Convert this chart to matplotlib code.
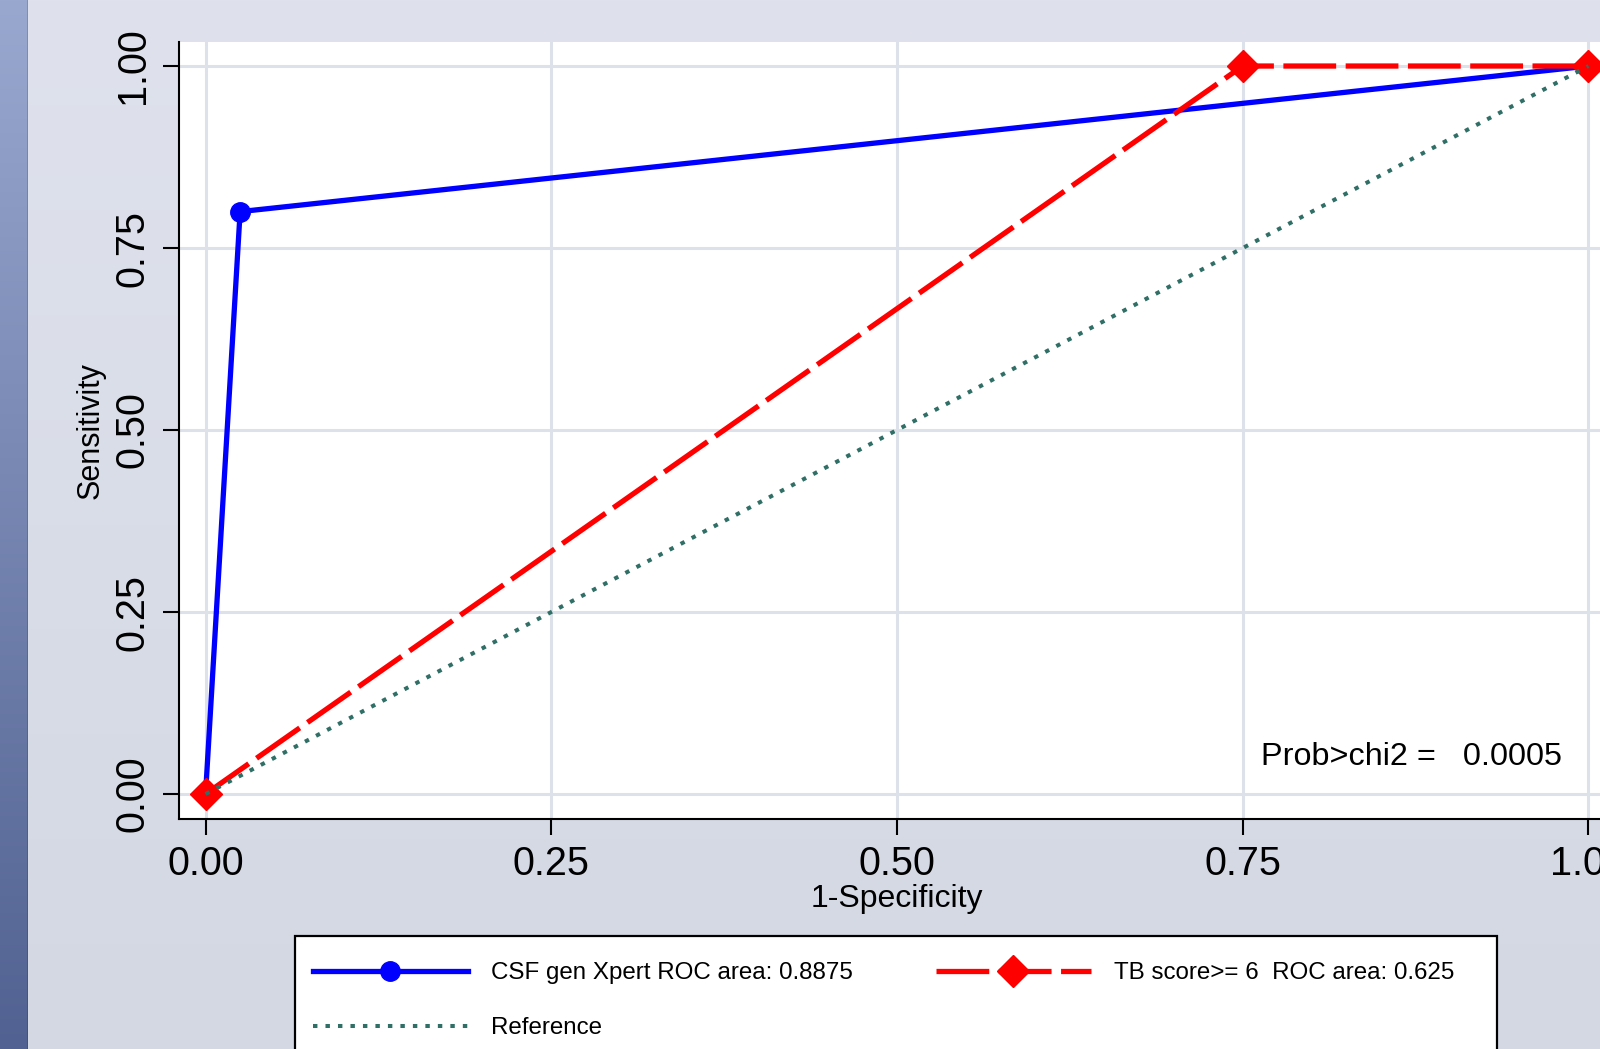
import numpy as np
import matplotlib
matplotlib.use("Agg")
import matplotlib.pyplot as plt
from matplotlib.patches import Rectangle

# ROC curve data
xpert_fpr = [0.0, 0.025, 1.0]
xpert_sens = [0.0, 0.80, 1.0]
tbscore_fpr = [0.0, 0.75, 1.0]
tbscore_sens = [0.0, 1.0, 1.0]
ref_x = [0.0, 1.0]
ref_y = [0.0, 1.0]

xpert_label = "CSF gen Xpert ROC area: 0.8875"
tbscore_label = "TB score>= 6  ROC area: 0.625"
ref_label = "Reference"
note_text = "Prob>chi2 =   0.0005"

tick_values = [0.0, 0.25, 0.5, 0.75, 1.0]
tick_labels = ["0.00", "0.25", "0.50", "0.75", "1.00"]

plt.rcParams["font.family"] = ["Liberation Sans", "DejaVu Sans"]

W, H = 1600, 1049
fig = plt.figure(figsize=(W / 100, H / 100), dpi=100)

# Background: soft vertical gradient plus a darker gradient strip on the left
top_bg = np.array([223, 226, 236]) / 255
bot_bg = np.array([211, 216, 227]) / 255
top_strip = np.array([153, 168, 207]) / 255
bot_strip = np.array([81, 97, 145]) / 255
t = np.linspace(0, 1, H)[:, None]
bg_col = top_bg * (1 - t) + bot_bg * t
strip_col = top_strip * (1 - t) + bot_strip * t
img = np.repeat(bg_col[:, None, :], W, axis=1)
img[:, :27, :] = strip_col[:, None, :]
img[:, 27, :] = strip_col * 0.85
bg = fig.add_axes([0, 0, 1, 1], zorder=-10)
bg.imshow(img, extent=(0, W, H, 0), aspect="auto", interpolation="bilinear")
bg.set_xlim(0, W)
bg.set_ylim(H, 0)
bg.axis("off")

# Plot area (extends past the right edge of the figure)
ax_left, ax_right, ax_top, ax_bottom = 179, 1615, 42, 819
ax = fig.add_axes([ax_left / W, 1 - ax_bottom / H,
                   (ax_right - ax_left) / W, (ax_bottom - ax_top) / H])
ax.set_facecolor("white")
ax.set_xlim(-0.0192, 1.0192)
ax.set_ylim(-0.0343, 1.033)

grid_kw = dict(color="#dde1ea", lw=2.2, zorder=0)
for v in tick_values:
    ax.axvline(v, **grid_kw)
    ax.axhline(v, **grid_kw)

blue_line, = ax.plot(xpert_fpr, xpert_sens, color="#0000ff", lw=3.8,
                     marker="o", ms=14, zorder=3, label=xpert_label)
red_line, = ax.plot(tbscore_fpr, tbscore_sens, color="#ff0000", lw=3.8,
                    linestyle=(0, (10, 1.8)), dash_capstyle="butt",
                    marker="D", ms=16, zorder=4, label=tbscore_label)
ref_line, = ax.plot(ref_x, ref_y, color="#2f6f66", lw=2.9,
                    linestyle=(0, (1.1, 2.0)), zorder=5, label=ref_label)

for s in ["top", "right"]:
    ax.spines[s].set_visible(False)
for s in ["left", "bottom"]:
    ax.spines[s].set_linewidth(1.5)
    ax.spines[s].set_color("black")

ax.set_xticks(tick_values)
ax.set_xticklabels(tick_labels)
ax.set_yticks(tick_values)
ax.set_yticklabels(tick_labels, rotation=90, va="center")
ax.tick_params(axis="both", direction="out", length=11.5, width=1.5, color="black")
ax.tick_params(axis="x", labelsize=28.5, pad=7.5)
ax.tick_params(axis="y", labelsize=28.5, pad=8)

ax.set_xlabel("1-Specificity", fontsize=23, va="baseline")
ax.xaxis.set_label_coords(0.5, (ax_bottom - 907) / (ax_bottom - ax_top))
ax.set_ylabel("Sensitivity", fontsize=22, va="center")
ax.yaxis.set_label_coords((91 - ax_left) / (ax_right - ax_left), 0.5)

ax.text((1261 - ax_left) / (ax_right - ax_left), (ax_bottom - 765) / (ax_bottom - ax_top),
        note_text, transform=ax.transAxes, fontsize=23.3, ha="left", va="baseline")

# Legend box (runs off the bottom of the figure)
box = Rectangle((295 / W, -0.05), (1497 - 295) / W, 0.05 + 1 - 936 / H,
                transform=fig.transFigure, facecolor="white", edgecolor="black",
                lw=1.6, zorder=1)
fig.patches.append(box)

leg = fig.legend(handles=[blue_line, ref_line, red_line],
                 labels=[xpert_label, ref_label, tbscore_label],
                 ncol=2, loc="upper left", bbox_to_anchor=(313 / W, 1 - 962 / H),
                 frameon=False, borderpad=0, borderaxespad=0,
                 handlelength=6.4, handletextpad=0.95, columnspacing=3.45,
                 labelspacing=1.38, fontsize=17.4, numpoints=1)
leg.set_zorder(2)

fig.savefig("out.png", dpi=100)
